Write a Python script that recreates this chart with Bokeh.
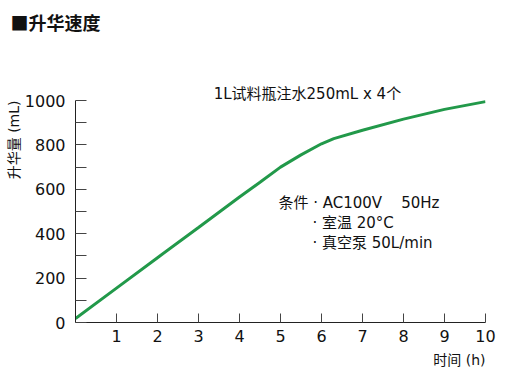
from bokeh.plotting import figure
from bokeh.models import FixedTicker, Range1d, Label, Title
from bokeh.embed import file_html
from bokeh.resources import INLINE

hours = [0, 1, 2, 3, 4, 4.5, 5, 5.5, 6, 6.3, 7, 8, 9, 10]
volume = [18, 155, 292, 428, 565, 632, 700, 755, 805, 828, 866, 916, 960, 995]
x_ticks = [1, 2, 3, 4, 5, 6, 7, 8, 9, 10]
y_ticks = [0, 200, 400, 600, 800, 1000]
y_minor = [100, 300, 500, 700, 900]

NB = "\u00a0"
title_text = "■升华速度"
note_text = "1L试料瓶注水250mL x 4个"
cond_lines = ["条件 · AC100V" + NB * 4 + "50Hz", "· 室温" + NB + "20°C", "· 真空泵" + NB + "50L/min"]
y_label = "升华量 (mL)"
x_label = "时间 (h)"

FONT = "DejaVu Sans, Noto Sans CJK SC"
CJK = "Noto Sans CJK SC"

TOP = 40
p = figure(width=523, height=374, output_backend="svg", toolbar_location=None,
           title=None,
           x_range=Range1d(0, 10), y_range=Range1d(0, 1000 * (322 - TOP) / 222.0),
           min_border_left=75, min_border_right=38, min_border_top=TOP, min_border_bottom=52)
p.outline_line_color = None
p.grid.visible = False
p.background_fill_color = "white"

p.line(hours, volume, line_color="#22994a", line_width=3)

xa = p.xaxis[0]
xa.ticker = FixedTicker(ticks=x_ticks)
xa.major_tick_in = 9
xa.major_tick_out = 0
xa.minor_tick_in = 0
xa.minor_tick_out = 0
xa.axis_line_color = "#222222"
xa.major_tick_line_color = "#444444"
xa.major_label_text_font = FONT
xa.major_label_text_font_size = "16px"
xa.major_label_text_color = "#111111"
xa.major_label_standoff = 7

ya = p.yaxis[0]
ya.ticker = FixedTicker(ticks=y_ticks, minor_ticks=y_minor)
ya.bounds = (0, 1000)
ya.major_tick_in = 11
ya.major_tick_out = 0
ya.minor_tick_in = 11
ya.minor_tick_out = 0
ya.axis_line_color = "#222222"
ya.major_tick_line_color = "#444444"
ya.minor_tick_line_color = "#444444"
ya.major_label_text_font = FONT
ya.major_label_text_font_size = "16px"
ya.major_label_text_color = "#111111"
ya.major_label_standoff = 10

p.add_layout(Title(text=title_text, align="left", offset=-65, standoff=12,
                   text_font=CJK, text_font_size="18px", text_font_style="bold",
                   text_color="#111111"), "above")
p.add_layout(Title(text=y_label, align="right", offset=60, standoff=0,
                   text_font=FONT, text_font_size="14px", text_font_style="normal",
                   text_color="#111111"), "left")
p.add_layout(Title(text=x_label, align="right", standoff=11,
                   text_font=FONT, text_font_size="14px", text_font_style="normal",
                   text_color="#111111"), "below")

def lab(x, y, text, size="15px", align="left"):
    p.add_layout(Label(x=x, y=y, text=text, text_font=FONT, text_font_size=size,
                       text_align=align, text_baseline="middle",
                       text_color="#111111"))

lab(3.37, 1031, note_text)
lab(4.95, 538, cond_lines[0])
lab(5.78, 448, cond_lines[1])
lab(5.78, 356, cond_lines[2])

open("out.html", "w").write(file_html(p, INLINE))
